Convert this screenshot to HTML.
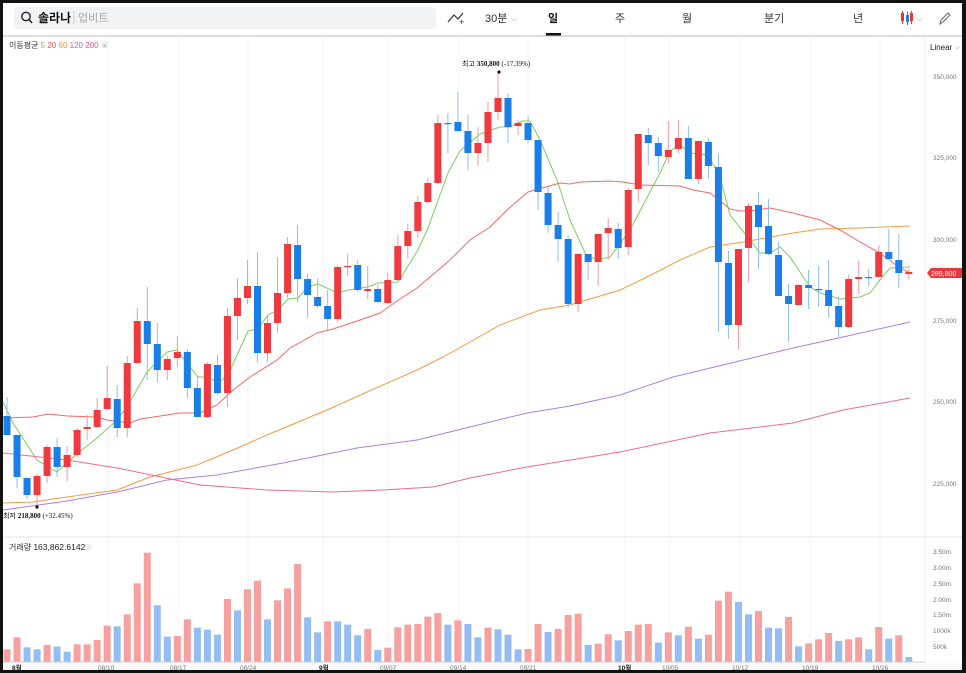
<!DOCTYPE html>
<html><head><meta charset="utf-8"><style>
html,body{margin:0;padding:0;background:#111;}
#w{position:relative;width:966px;height:673px;overflow:hidden;background:#111;}
#p{position:absolute;left:3px;top:3px;width:959px;height:667px;background:#fff;}
svg{position:absolute;left:0;top:0;}
text{font-family:"Liberation Sans","Noto Sans CJK KR",sans-serif;}
</style></head><body><div id="w"><div id="p"></div>
<svg id="s" width="966" height="673" xmlns="http://www.w3.org/2000/svg">
<!-- top bar -->
<rect x="14" y="7" width="422" height="22" rx="4" fill="#f2f3f5"/>
<circle cx="26" cy="16.5" r="4.2" fill="none" stroke="#222" stroke-width="1.4"/>
<line x1="29" y1="19.5" x2="32" y2="23" stroke="#222" stroke-width="1.4"/>
<text x="38" y="22" font-size="12" font-weight="bold" fill="#111">솔라나</text>
<line x1="74" y1="11" x2="74" y2="24" stroke="#ccc"/>
<text x="78" y="21.5" font-size="11" fill="#aaa">업비트</text>
<polyline points="448,22 454,15 458,19 463,13" fill="none" stroke="#333" stroke-width="1.2"/>
<text x="459" y="25" font-size="9" fill="#333">+</text>
<text x="485" y="22" font-size="11" fill="#333">30분</text>
<text x="511" y="21" font-size="8" fill="#999">⌵</text>
<text x="548" y="22" font-size="11" font-weight="bold" fill="#111">일</text>
<rect x="546" y="33" width="15" height="3" fill="#111"/>
<text x="615" y="22" font-size="11" fill="#333">주</text>
<text x="682" y="22" font-size="11" fill="#333">월</text>
<text x="764" y="22" font-size="11" fill="#333">분기</text>
<text x="853" y="22" font-size="11" fill="#333">년</text>
<rect x="901" y="13" width="3" height="8" fill="#e33"/><line x1="902.5" y1="11" x2="902.5" y2="24" stroke="#e33"/>
<rect x="906" y="15" width="3" height="7" fill="#1a7ee8"/><line x1="907.5" y1="12" x2="907.5" y2="25" stroke="#1a7ee8"/>
<rect x="910" y="13" width="3" height="8" fill="#e33"/><line x1="911.5" y1="11" x2="911.5" y2="24" stroke="#e33"/>
<text x="917" y="21" font-size="8" fill="#999">⌵</text>
<path d="M940 24 L941 20 L948 13 L950 15 L943 22 Z" fill="none" stroke="#666" stroke-width="1"/>
<line x1="3" y1="36" x2="962" y2="36" stroke="#bbb" stroke-width="1"/>
<text x="9" y="48" font-size="8" fill="#333">이동평균 <tspan fill="#6cc24a">5</tspan> <tspan fill="#f0504a">20</tspan> <tspan fill="#f5942a">60</tspan> <tspan fill="#a66ad8">120</tspan> <tspan fill="#e8508a">200</tspan></text>
<circle cx="105" cy="45" r="3.5" fill="#eee"/><text x="103" y="47.5" font-size="6" fill="#999">x</text>
<text x="930" y="50" font-size="8" fill="#222">Linear</text><text x="955" y="49" font-size="6" fill="#888">⌵</text>
<g id="grid"></g>
<line x1="925" y1="37" x2="925" y2="670" stroke="#eee"/>
<line x1="3" y1="537" x2="962" y2="537" stroke="#e6e6e6"/>
<g id="axis" font-size="6.5" fill="#777"></g>
<g id="ma"></g>
<g id="c"></g>
<g id="v"></g>
<text x="9" y="550" font-size="8" fill="#333">거래량 <tspan font-size="8.5" fill="#222">163,862.6142</tspan></text>
<circle cx="88" cy="547" r="3.5" fill="#eee"/>
<text x="462" y="66" font-size="7" fill="#111">최고 <tspan font-family="Liberation Serif" font-weight="bold">350,800</tspan> <tspan font-family="Liberation Serif">(-17.39%)</tspan></text>
<circle cx="499" cy="72" r="1.6" fill="#111"/>
<text x="3" y="518" font-size="7" fill="#111">최저 <tspan font-family="Liberation Serif" font-weight="bold">218,800</tspan> <tspan font-family="Liberation Serif">(+32.45%)</tspan></text>
<circle cx="37" cy="507" r="1.6" fill="#111"/>
<path d="M927 273 L931 268 L962 268 L962 278 L931 278 Z" fill="#e8383d"/>
<text x="931" y="276" font-size="7" fill="#fff">289,800</text>
<rect x="3" y="662" width="959" height="8" fill="#fafafa"/>
<line x1="3" y1="662" x2="925" y2="662" stroke="#ccc"/>
<g id="dates" font-size="6.5" fill="#777"></g>
</svg></div>
<script>
var NS="http://www.w3.org/2000/svg";
function el(p,t,a,txt){var e=document.createElementNS(NS,t);for(var k in a)e.setAttribute(k,a[k]);if(txt)e.textContent=txt;document.getElementById(p).appendChild(e);return e;}
var gx=[108,178,248,323,388,458,528,625,670,740,810,880];
gx.forEach(function(x){el("grid","line",{x1:x,y1:37,x2:x,y2:662,stroke:"#f3f3f3"});});
[[77,"350,000"],[158,"325,000"],[240,"300,000"],[321,"275,000"],[402,"250,000"],[484,"225,000"]].forEach(function(a){el("axis","text",{x:933,y:a[0]+2},a[1]);});
[[552,"3.50m"],[568,"3.00m"],[584,"2.50m"],[600,"2.00m"],[615,"1.50m"],[631,"1000k"],[647,"500k"]].forEach(function(a){el("axis","text",{x:933,y:a[0]+2},a[1]);});
[[12,"8월",1],[98,"08/10"],[170,"08/17"],[240,"08/24"],[319,"9월",1],[380,"09/07"],[450,"09/14"],[520,"09/21"],[618,"10월",1],[662,"10/05"],[732,"10/12"],[802,"10/19"],[872,"10/26"]].forEach(function(a){var t=el("dates","text",{x:a[0],y:670},a[1]);if(a[2]){t.setAttribute("fill","#222");t.setAttribute("font-weight","bold");}});
// candles: [color(1=red,0=blue), bodyTop, bodyBot, high, low]
var C=[[0,416,435,397,435],[0,435,477,435,488],[0,478,495,478,499],[1,476,495,474,505],[1,447,476,445,483],[0,447,467,438,477],[1,455,467,446,481],[1,430,455,428,458],[1,427,429,415,440],[1,410,427,398,428],[1,398,409,366,410],[0,399,428,385,437],[1,363,428,356,437],[1,321,363,308,364],[0,321,344,287,380],[0,344,370,323,382],[1,359,370,356,380],[1,352,358,336,367],[0,352,388,349,398],[0,388,417,376,418],[1,364,417,362,418],[0,365,393,355,395],[1,316,393,308,407],[1,298,316,278,340],[1,286,298,260,304],[0,286,353,252,362],[1,323,353,315,362],[1,293,323,257,333],[1,244,293,237,298],[0,245,279,225,302],[0,279,295,274,318],[0,297,306,278,308],[0,306,319,290,331],[1,267,319,265,322],[1,266,267,254,276],[0,265,290,260,292],[1,289,291,266,299],[0,289,302,285,303],[1,280,303,273,304],[1,246,280,235,281],[1,231,246,224,258],[1,202,231,196,238],[1,183,202,178,203],[1,123,183,115,184],[0,123,124,113,153],[0,122,131,92,132],[0,131,153,115,170],[1,143,153,127,166],[1,112,143,102,162],[1,98,112,72,120],[0,98,127,93,143],[1,123,126,120,135],[0,123,140,116,143],[0,140,192,140,210],[0,193,225,187,233],[0,225,239,212,262],[0,239,304,235,308],[1,254,304,253,312],[0,254,262,254,280],[1,234,262,234,286],[1,228,233,218,260],[0,229,248,223,259],[1,190,247,188,255],[1,134,189,134,202],[0,135,143,128,165],[0,143,156,137,172],[1,150,157,121,163],[1,138,149,120,153],[0,138,179,126,179],[1,141,179,141,184],[0,142,166,138,179],[0,167,262,154,332],[0,263,325,251,339],[1,249,325,249,349],[1,206,248,203,282],[0,205,227,192,269],[0,226,254,199,255],[0,255,296,242,296],[0,296,304,284,342],[1,285,305,284,306],[0,285,288,270,309],[0,289,290,266,307],[0,290,306,260,318],[0,306,327,297,337],[1,279,327,275,328],[1,277,279,261,294],[0,277,278,269,286],[1,252,277,245,278],[0,252,259,229,260],[0,260,273,234,288],[1,272,274,269,279]];
C.forEach(function(c,i){var x=7+i*10.02,col=c[0]?"#ee3a3f":"#1a7ee8",wc=c[0]?"#f49a9c":"#8dbdf3";
el("c","line",{x1:x,y1:c[3],x2:x,y2:c[4],stroke:wc,"stroke-width":1});
el("c","rect",{x:x-3.5,y:c[1],width:7,height:Math.max(1.2,c[2]-c[1]),fill:col});});
var MA={"#7dcc5e":[[3,402],[13,423],[37,460],[57,472],[78,453],[97,438],[115,422],[127,407],[147,372],[167,352],[177,350],[198,377],[208,377],[218,383],[228,375],[248,331],[258,329],[268,315],[278,310],[288,299],[298,298],[308,287],[318,284],[338,293],[348,290],[368,287],[378,283],[398,282],[418,250],[428,228],[448,173],[460,151],[480,134],[500,127],[510,127],[522,121],[530,121],[540,140],[557,180],[570,220],[587,257],[600,259],[610,257],[630,230],[660,173],[670,151],[680,145],[690,153],[708,155],[720,177],[730,215],[750,240],[760,253],[770,253],[780,247],[790,257],[810,287],[820,293],[840,299],[860,297],[870,293],[880,280],[890,268],[910,267]],
"#f26b63":[[3,418],[33,417],[48,414],[67,416],[97,417],[107,420],[130,423],[140,419],[167,415],[180,413],[200,413],[217,405],[233,390],[250,377],[277,360],[290,348],[317,333],[333,329],[360,320],[380,313],[400,299],[417,288],[450,260],[470,240],[490,227],[507,210],[528,192],[560,183],[570,184],[580,182],[610,181],[623,182],[640,185],[680,186],[693,190],[710,193],[730,209],[740,211],[750,211],[770,208],[793,213],[820,220],[840,230],[860,242],[880,253],[900,268],[910,273]],
"#f79a45":[[3,503],[33,502],[67,497],[117,490],[150,477],[197,465],[233,450],[267,435],[327,410],[367,392],[417,370],[443,357],[470,342],[500,325],[540,310],[570,305],[620,290],[647,277],[680,260],[710,247],[743,242],[793,233],[820,229],[860,228],[910,226]],
"#b07ee0":[[3,510],[67,501],[117,492],[167,480],[217,475],[283,463],[357,448],[417,440],[470,427],[527,413],[570,406],[620,395],[673,377],[727,364],[793,348],[843,337],[910,322]],
"#ee6a9a":[[3,453],[67,460],[117,468],[200,485],[267,490],[333,492],[383,490],[433,487],[470,478],[527,467],[620,452],[710,433],[793,423],[843,410],[910,398]]};
for(var k in MA){el("ma","polyline",{points:MA[k].map(function(p){return p.join(",")}).join(" "),fill:"none",stroke:k,"stroke-width":1});}
var V=[[1,358],[1,322],[0,352],[0,358],[1,345],[0,350],[0,365],[1,343],[1,343],[1,330],[1,287],[0,289],[1,253],[1,160],[1,68],[0,226],[0,320],[1,318],[1,268],[0,293],[0,299],[0,314],[1,207],[0,241],[1,178],[1,152],[0,268],[1,211],[1,175],[1,102],[0,262],[0,307],[1,274],[0,274],[0,284],[0,316],[1,297],[0,360],[1,353],[1,292],[1,284],[1,282],[1,260],[1,249],[0,284],[1,271],[0,282],[0,322],[1,293],[0,298],[0,314],[0,358],[1,357],[1,282],[0,306],[1,297],[1,255],[1,251],[0,345],[1,341],[1,313],[0,331],[1,303],[1,284],[1,282],[0,338],[1,307],[0,316],[1,290],[0,326],[1,314],[1,212],[1,185],[0,216],[0,253],[1,243],[0,293],[0,295],[1,261],[0,349],[1,340],[1,328],[1,309],[0,333],[1,328],[1,322],[0,358],[1,291],[0,326],[1,316],[0,381]];
V.forEach(function(v,i){var x=7+i*10.02,t=v[1]/3+530;el("v","rect",{x:x-3.5,y:t,width:7,height:662-t,fill:v[0]?"#f6a09f":"#93bdf3"});});
</script></body></html>
